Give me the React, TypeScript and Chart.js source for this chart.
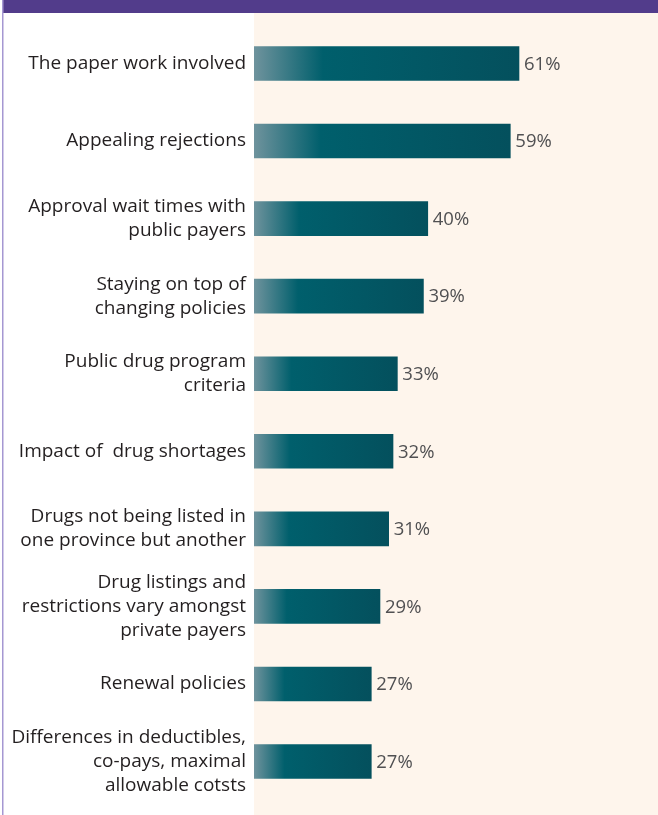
import React, { useEffect, useRef } from "react";
import { Chart, registerables } from "chart.js";

Chart.register(...registerables);

const categories: (string | string[])[] = [
  "The paper work involved",
  "Appealing rejections",
  ["Approval wait times with", "public payers"],
  ["Staying on top of", "changing policies"],
  ["Public drug program", "criteria"],
  "Impact of  drug shortages",
  ["Drugs not being listed in", "one province but another"],
  ["Drug listings and", "restrictions vary amongst", "private payers"],
  "Renewal policies",
  ["Differences in deductibles,", "co-pays, maximal", "allowable cotsts"],
];

const values: number[] = [61, 59, 40, 39, 33, 32, 31, 29, 27, 27];
const valueLabels: string[] = ["61%", "59%", "40%", "39%", "33%", "32%", "31%", "29%", "27%", "27%"];

const FONT = "'Open Sans', 'Noto Sans', sans-serif";

const decorPlugin = {
  id: "decor",
  beforeDraw(chart: any) {
    const { ctx, width, height, chartArea } = chart;
    ctx.save();
    ctx.fillStyle = "#ffffff";
    ctx.fillRect(0, 0, width, height);
    ctx.fillStyle = "#fef5ec";
    ctx.fillRect(chartArea.left, 13, width - chartArea.left, height - 13);
    ctx.fillStyle = "#523c8b";
    ctx.fillRect(2, 0, width - 2, 13);
    ctx.fillStyle = "#a597d2";
    ctx.fillRect(2, 0, 1.5, height);
    ctx.restore();
  },
  afterDatasetsDraw(chart: any) {
    const { ctx } = chart;
    const meta = chart.getDatasetMeta(0);
    ctx.save();
    ctx.fillStyle = "#505052";
    ctx.font = `400 18.5px ${FONT}`;
    ctx.textAlign = "left";
    ctx.textBaseline = "middle";
    meta.data.forEach((el: any, i: number) => {
      ctx.fillText(valueLabels[i], el.x + 5, el.y + 1);
    });
    ctx.restore();
  },
};

export default function App() {
  const ref = useRef<HTMLCanvasElement | null>(null);

  useEffect(() => {
    if (!ref.current) return;
    const chart = new Chart(ref.current, {
      type: "bar",
      data: {
        labels: categories,
        datasets: [
          {
            data: values,
            barThickness: 34,
            borderWidth: 0,
            backgroundColor: (c: any) => {
              const ch = c.chart;
              const area = ch.chartArea;
              if (!area || c.raw === undefined) return "#005f6c";
              const xs = ch.scales.x;
              const x0 = xs.getPixelForValue(0);
              const x1 = xs.getPixelForValue(c.raw as number);
              const g = ch.ctx.createLinearGradient(x0, 0, x1, 0);
              g.addColorStop(0, "#6f939d");
              g.addColorStop(0.26, "#005f6c");
              g.addColorStop(1, "#04505d");
              return g;
            },
          },
        ],
      },
      options: {
        indexAxis: "y",
        responsive: false,
        animation: false,
        devicePixelRatio: 1,
        layout: { padding: { top: 24.7, bottom: 14.7, left: 0, right: 0 } },
        plugins: {
          legend: { display: false },
          tooltip: { enabled: false },
        },
        scales: {
          x: {
            display: false,
            min: 0,
            max: 93,
          },
          y: {
            offset: true,
            grid: { display: false, drawTicks: false },
            border: { display: false },
            afterFit: (scale: any) => {
              scale.width = 254;
              scale.paddingTop = 0;
              scale.paddingBottom = 0;
            },
            ticks: {
              padding: 8,
              color: "#231f20",
              font: { family: FONT, size: 19, lineHeight: 1.27 },
              autoSkip: false,
            },
          },
        },
      },
      plugins: [decorPlugin],
    });
    return () => chart.destroy();
  }, []);

  return (
    <div style={{ position: "fixed", left: 0, top: 0, width: 658, height: 815 }}>
      <canvas ref={ref} width={658} height={815} style={{ width: 658, height: 815, display: "block" }} />
    </div>
  );
}
